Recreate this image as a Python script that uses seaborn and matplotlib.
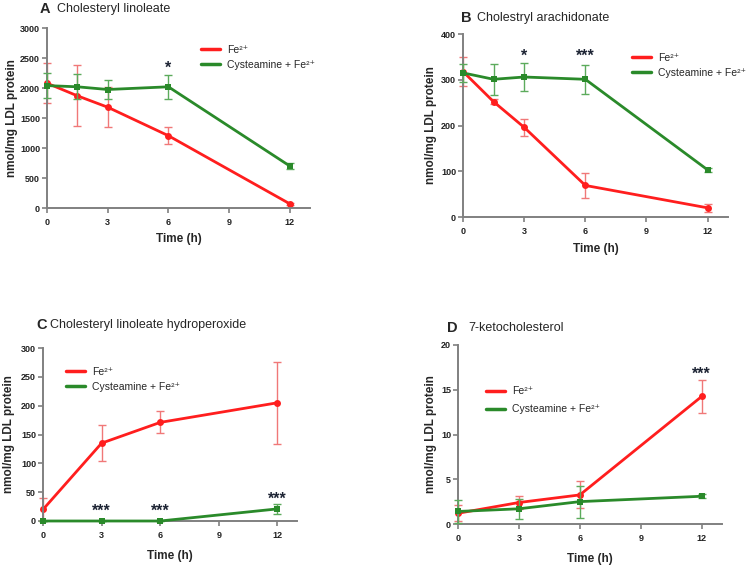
import pandas as pd
import matplotlib
matplotlib.use('Agg')
import matplotlib.pyplot as plt
from matplotlib.lines import Line2D
import seaborn as sns

sns.set_style('ticks')
plt.rcParams['font.family'] = ['Liberation Sans', 'DejaVu Sans']

# data (mean and SD)
time_ab = [0, 1.5, 3, 6, 12]
time_cd = [0, 3, 6, 12]

a_fe = [2080, 1870, 1680, 1205, 70]
a_fe_sd = [330, 510, 330, 140, 20]
a_cys = [2040, 2020, 1975, 2020, 700]
a_cys_sd = [210, 210, 160, 200, 50]

b_fe = [318, 252, 196, 69, 20]
b_fe_sd = [32, 5, 18, 27, 8]
b_cys = [315, 301, 306, 301, 103]
b_cys_sd = [20, 34, 30, 32, 4]

c_fe = [20, 135, 171, 205]
c_fe_sd = [20, 31, 19, 71]
c_cys = [0, 0, 0, 21]
c_cys_sd = [0, 0, 0, 8]

d_fe = [1.2, 2.4, 3.25, 14.25]
d_fe_sd = [0.9, 0.7, 1.5, 1.85]
d_cys = [1.4, 1.7, 2.5, 3.1]
d_cys_sd = [1.3, 1.1, 1.8, 0.2]

letters = ['A', 'B', 'C', 'D']
titles = ['Cholesteryl linoleate', 'Cholestryl arachidonate',
          'Cholesteryl linoleate hydroperoxide', '7-ketocholesterol']
y_max = [3000, 400, 300, 20]
y_step = [500, 100, 50, 5]
# significance marks: (time, height, text)
stars = [
    [(6, 2330, '*')],
    [(3, 352, '*'), (6, 352, '***')],
    [(3, 17, '***'), (6, 17, '***'), (12, 38, '***')],
    [(12, 16.7, '***')],
]

series = [
    (time_ab, a_fe, a_fe_sd, a_cys, a_cys_sd),
    (time_ab, b_fe, b_fe_sd, b_cys, b_cys_sd),
    (time_cd, c_fe, c_fe_sd, c_cys, c_cys_sd),
    (time_cd, d_fe, d_fe_sd, d_cys, d_cys_sd),
]

FE = 'Fe²⁺'
CYS = 'Cysteamine + Fe²⁺'
RED = '#ff1e1e'
GREEN = '#2a8a2a'
RED_ERR = '#f07878'
GREEN_ERR = '#5cab5c'
SPINE = '#808080'

W, H = 750, 565
# axes boxes in pixels: left, top, right, bottom
boxes = [(47, 28, 310, 208), (463, 34, 728, 217), (43, 348, 297, 521), (458, 345, 722, 524)]
letter_pos = [(40, 9), (461, 18), (36, 325), (447, 328)]
title_pos = [(57, 9), (477, 18), (50, 325), (468, 328)]
legend_pos = [(0.57, 0.93), (0.622, 0.92), (0.075, 0.917), (0.09, 0.792)]
legend_space = [0.5, 0.5, 0.5, 0.75]
ylabel_x = [-0.11, -0.098, -0.11, -0.08]
xlabel_y = [-0.14, -0.14, -0.165, -0.16]

fig = plt.figure(figsize=(7.5, 5.65), dpi=100)

for i in range(4):
    l, t, r, b = boxes[i]
    ax = fig.add_axes([l / W, 1 - b / H, (r - l) / W, (b - t) / H])
    tt, fe, fe_sd, cys, cys_sd = series[i]

    df = pd.DataFrame({
        'time': list(tt) * 2,
        'value': list(fe) + list(cys),
        'group': [FE] * len(tt) + [CYS] * len(tt),
    })

    ax.errorbar(tt, fe, yerr=fe_sd, fmt='none', ecolor=RED_ERR, elinewidth=1,
                capsize=3, capthick=1, zorder=2, clip_on=False)
    ax.errorbar(tt, cys, yerr=cys_sd, fmt='none', ecolor=GREEN_ERR, elinewidth=1,
                capsize=3, capthick=1, zorder=4, clip_on=False)
    sns.lineplot(data=df, x='time', y='value', hue='group', style='group',
                 hue_order=[FE, CYS], style_order=[FE, CYS],
                 palette={FE: RED, CYS: GREEN}, markers={FE: 'o', CYS: 's'},
                 dashes=False, errorbar=None, linewidth=2, markersize=5,
                 markeredgewidth=0, legend=False, ax=ax)
    for ln in ax.lines:
        ln.set_clip_on(False)
    ax.lines[-1].set_zorder(5)

    for x, y, s in stars[i]:
        ax.text(x, y, s, ha='center', va='center', fontsize=11.5,
                fontweight='bold', color='#1c2333')

    ax.set_xlim(0, 13)
    ax.set_ylim(0, y_max[i])
    ax.set_xticks([0, 3, 6, 9, 12])
    ax.set_yticks(range(0, y_max[i] + 1, y_step[i]))
    sns.despine(ax=ax)
    for sp in ['left', 'bottom']:
        ax.spines[sp].set_color(SPINE)
        ax.spines[sp].set_linewidth(1.4)
    ax.tick_params(length=3.5, width=1.2, color=SPINE, labelsize=6.5, pad=1.5,
                   labelcolor='#222222')
    ax.tick_params(axis='x', pad=3.5)
    for lab in ax.get_xticklabels() + ax.get_yticklabels():
        lab.set_fontweight('bold')

    ax.set_xlabel('Time (h)', fontsize=8.5, fontweight='bold')
    ax.set_ylabel('nmol/mg LDL protein', fontsize=8.5, fontweight='bold')
    ax.xaxis.set_label_coords(0.5, xlabel_y[i])
    ax.yaxis.set_label_coords(ylabel_x[i], 0.5)

    handles = [Line2D([], [], color=RED, lw=2.5), Line2D([], [], color=GREEN, lw=2.5)]
    ax.legend(handles, [FE, CYS], loc='upper left', bbox_to_anchor=legend_pos[i],
              frameon=False, fontsize=7.5, handlelength=1.8, handletextpad=0.7,
              labelspacing=legend_space[i], borderaxespad=0)

    fig.text(letter_pos[i][0] / W, 1 - letter_pos[i][1] / H, letters[i],
             fontsize=10.5, fontweight='bold', va='center')
    fig.text(title_pos[i][0] / W, 1 - title_pos[i][1] / H, titles[i],
             fontsize=9, va='center')

fig.savefig('out.png', dpi=100)
